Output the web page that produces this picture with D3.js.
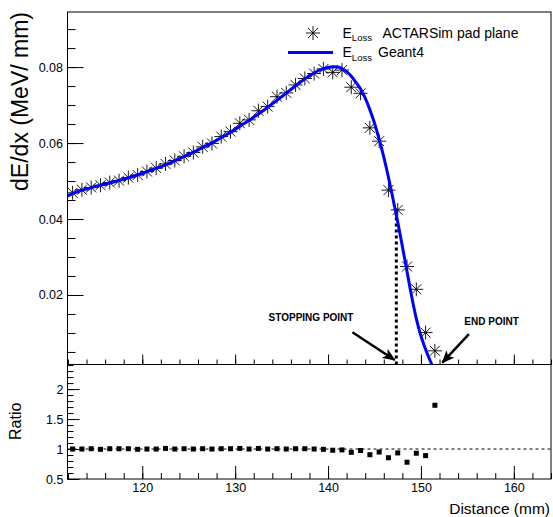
<!DOCTYPE html>
<html>
<head>
<meta charset="utf-8" />
<title>dE/dx</title>
<script src="https://d3js.org/d3.v7.min.js"></script>
<style>
  body { margin: 0; background: white; }
  text { font-family: "Liberation Sans", Arial, sans-serif; }
</style>
</head>
<body>
<div id="vis"></div>
<script>
var w = 553, h = 517;

// ACTARSim pad plane points (one per mm)
var distance = [112.5, 113.5, 114.5, 115.5, 116.5, 117.5, 118.5, 119.5, 120.5, 121.5,
                122.5, 123.5, 124.5, 125.5, 126.5, 127.5, 128.5, 129.5, 130.5, 131.5,
                132.5, 133.5, 134.5, 135.5, 136.5, 137.5, 138.5, 139.5, 140.5, 141.5,
                142.5, 143.5, 144.5, 145.5, 146.5, 147.5, 148.5, 149.5, 150.5, 151.5];
var eloss = [0.0469, 0.0477, 0.0483, 0.0489, 0.0496, 0.0501, 0.0509, 0.0516, 0.0525, 0.0534,
             0.0545, 0.0554, 0.0565, 0.0575, 0.0590, 0.0599, 0.0617, 0.0630, 0.0652, 0.0661,
             0.0685, 0.0696, 0.0722, 0.0732, 0.0753, 0.0770, 0.0783, 0.0795, 0.0786, 0.0792,
             0.0747, 0.0731, 0.0640, 0.0605, 0.0476, 0.0424, 0.0275, 0.0215, 0.0101, 0.0053];
var ratio = [1.0, 1.0, 1.005, 0.995, 1.005, 1.005, 1.005, 0.995, 1.0, 1.0,
             1.01, 1.0, 1.005, 1.0, 1.005, 1.0, 1.005, 1.005, 1.01, 1.0,
             1.01, 1.0, 1.005, 1.0, 1.005, 1.005, 1.0, 0.995, 0.98, 0.985,
             0.945, 0.975, 0.905, 0.95, 0.855, 0.935, 0.78, 0.93, 0.89, 1.73];

// Geant4 curve
var g4Distance = [112, 113, 114, 115, 116, 117, 118, 119, 120, 121, 122, 123, 124, 125,
                  126, 127, 128, 129, 130, 131, 132, 133, 134, 135, 136, 137, 138, 139,
                  140, 140.5, 141, 141.5, 142, 142.5, 143, 143.5, 144, 144.5, 145, 145.5,
                  146, 146.5, 147, 147.5, 148, 148.5, 149, 149.5, 150, 150.3, 150.7, 151.3];
var g4Eloss = [0.0461, 0.0472, 0.0479, 0.0486, 0.0492, 0.0498, 0.0505, 0.0512, 0.0520, 0.0529,
               0.0538, 0.0548, 0.0559, 0.0570, 0.0582, 0.0594, 0.0607, 0.0621, 0.0636, 0.0652,
               0.0668, 0.0685, 0.0703, 0.0722, 0.0741, 0.0760, 0.0777, 0.0791, 0.0799, 0.0801,
               0.0800, 0.0796, 0.0788, 0.0776, 0.0760, 0.0742, 0.0718, 0.0688, 0.0652, 0.0610,
               0.0563, 0.0510, 0.0452, 0.0392, 0.0328, 0.0262, 0.0196, 0.0138, 0.0092, 0.0070,
               0.0044, 0.0010];

var elossTicks = [0.02, 0.04, 0.06, 0.08];
var ratioTicks = [0.5, 1, 1.5, 2];
var distTicks = [120, 130, 140, 150, 160];
var stoppingPoint = 147.35;

var left = 67.5, right = 551;
var topY = 12, midY = 364.5, botY = 479;

var x = d3.scaleLinear().domain([111.95, 164]).range([left, right]);
var y = d3.scaleLinear().domain([0.0017, 0.0945]).range([midY, topY]);
var yr = d3.scaleLinear().domain([0.5, 2.41]).range([botY, midY]);

var svg = d3.select("#vis").append("svg")
  .attr("width", w)
  .attr("height", h);

svg.append("rect").attr("width", w).attr("height", h).attr("fill", "white");

var defs = svg.append("defs");
defs.append("clipPath").attr("id", "clipTop")
  .append("rect")
  .attr("x", left).attr("y", topY)
  .attr("width", right - left).attr("height", midY - topY);
defs.append("marker").attr("id", "head")
  .attr("viewBox", "0 0 12 10")
  .attr("refX", 11).attr("refY", 5)
  .attr("markerUnits", "userSpaceOnUse")
  .attr("markerWidth", 13).attr("markerHeight", 11)
  .attr("orient", "auto")
  .append("path")
  .attr("d", "M0,0L12,5L0,10L3,5Z")
  .attr("fill", "black");

function minor(a, b, step) {
  var out = [];
  for (var v = a; v <= b + 1e-9; v += step) out.push(+v.toFixed(4));
  return out;
}

function styleAxis(g) {
  g.select(".domain").remove();
  g.selectAll("line").attr("stroke", "black");
  g.selectAll("text").attr("font-size", 12.5).attr("fill", "black")
    .attr("font-family", "Liberation Sans, Arial, sans-serif");
}

// top panel axes
svg.append("g").attr("transform", "translate(" + left + ",0)")
  .call(d3.axisLeft(y).tickValues(minor(0.005, 0.09, 0.005)).tickSizeInner(-8).tickSizeOuter(0).tickFormat(""))
  .call(styleAxis);
svg.append("g").attr("transform", "translate(" + left + ",0)")
  .call(d3.axisLeft(y).tickValues(elossTicks).tickSizeInner(-16).tickSizeOuter(0).tickPadding(4.5)
    .tickFormat(d3.format(".2f")))
  .call(styleAxis);
svg.append("g").attr("transform", "translate(0," + midY + ")")
  .call(d3.axisBottom(x).tickValues(minor(112, 164, 2)).tickSizeInner(-5).tickSizeOuter(0).tickFormat(""))
  .call(styleAxis);
svg.append("g").attr("transform", "translate(0," + midY + ")")
  .call(d3.axisBottom(x).tickValues(distTicks).tickSizeInner(-10).tickSizeOuter(0).tickFormat(""))
  .call(styleAxis);

// bottom panel axes
svg.append("g").attr("transform", "translate(" + left + ",0)")
  .call(d3.axisLeft(yr).tickValues(minor(0.5, 2.4, 0.1)).tickSizeInner(-6).tickSizeOuter(0).tickFormat(""))
  .call(styleAxis);
svg.append("g").attr("transform", "translate(" + left + ",0)")
  .call(d3.axisLeft(yr).tickValues(ratioTicks).tickSizeInner(-12).tickSizeOuter(0).tickPadding(4)
    .tickFormat(d3.format("")))
  .call(styleAxis);
svg.append("g").attr("transform", "translate(0," + botY + ")")
  .call(d3.axisBottom(x).tickValues(minor(112, 164, 2)).tickSizeInner(-6).tickSizeOuter(0).tickFormat(""))
  .call(styleAxis);
svg.append("g").attr("transform", "translate(0," + botY + ")")
  .call(d3.axisBottom(x).tickValues(distTicks).tickSizeInner(-13).tickSizeOuter(0).tickPadding(4))
  .call(styleAxis);

// frames
svg.append("rect").attr("x", left).attr("y", topY)
  .attr("width", right - left).attr("height", midY - topY)
  .attr("fill", "none").attr("stroke", "black");
svg.append("rect").attr("x", left).attr("y", midY)
  .attr("width", right - left).attr("height", botY - midY)
  .attr("fill", "none").attr("stroke", "black");

// stopping point dotted line
svg.append("line")
  .attr("x1", x(stoppingPoint)).attr("x2", x(stoppingPoint))
  .attr("y1", y(0.0017)).attr("y2", y(0.0421))
  .attr("stroke", "black").attr("stroke-width", 3)
  .attr("stroke-dasharray", "3,3");

// stars
var plot = svg.append("g").attr("clip-path", "url(#clipTop)");
var star = "M-7,0H7M0,-7V7M-5,-5L5,5M-5,5L5,-5";
plot.selectAll("path.star")
  .data(distance)
  .enter().append("path")
  .attr("class", "star")
  .attr("d", star)
  .attr("transform", function(d, i) { return "translate(" + x(d) + "," + y(eloss[i]) + ")"; })
  .attr("stroke", "black").attr("stroke-width", 0.9).attr("fill", "none");

// Geant4 curve
var line = d3.line()
  .x(function(d, i) { return x(d); })
  .y(function(d, i) { return y(g4Eloss[i]); })
  .curve(d3.curveMonotoneX);
plot.append("path")
  .attr("d", line(g4Distance))
  .attr("fill", "none").attr("stroke", "#0000ff").attr("stroke-width", 3);

// arrows
svg.append("line")
  .attr("x1", x(142.62)).attr("y1", y(0.0102))
  .attr("x2", x(147.17)).attr("y2", y(0.0029))
  .attr("stroke", "black").attr("stroke-width", 2.5).attr("marker-end", "url(#head)");
svg.append("line")
  .attr("x1", x(155.16)).attr("y1", y(0.0097))
  .attr("x2", x(152.3)).attr("y2", y(0.0022))
  .attr("stroke", "black").attr("stroke-width", 2.5).attr("marker-end", "url(#head)");
svg.append("text").attr("x", x(133.6)).attr("y", y(0.0132))
  .attr("font-family", "Liberation Serif, Times New Roman, serif").attr("font-weight", "bold")
  .attr("font-size", 10).text("STOPPING POINT");
svg.append("text").attr("x", x(154.67)).attr("y", y(0.0121))
  .attr("font-family", "Liberation Serif, Times New Roman, serif").attr("font-weight", "bold")
  .attr("font-size", 10).text("END POINT");

// ratio panel
svg.append("line")
  .attr("x1", left).attr("x2", right)
  .attr("y1", yr(1)).attr("y2", yr(1))
  .attr("stroke", "black").attr("stroke-dasharray", "3,3");
svg.selectAll("rect.ratio")
  .data(distance)
  .enter().append("rect")
  .attr("class", "ratio")
  .attr("x", function(d) { return x(d) - 2.5; })
  .attr("y", function(d, i) { return yr(ratio[i]) - 2.5; })
  .attr("width", 5).attr("height", 5)
  .attr("fill", "black");

// legend
var leg = svg.append("g");
leg.append("path").attr("d", star).attr("transform", "translate(313,33)")
  .attr("stroke", "black").attr("stroke-width", 0.9).attr("fill", "none");
leg.append("line").attr("x1", 288).attr("x2", 333).attr("y1", 52.5).attr("y2", 52.5)
  .attr("stroke", "#0000ff").attr("stroke-width", 3);
var t1 = leg.append("text").attr("x", 342.5).attr("y", 37.5).attr("font-size", 14);
t1.append("tspan").text("E");
t1.append("tspan").attr("font-size", 9.5).attr("dy", 3.5).text("Loss");
t1.append("tspan").attr("dy", -3.5).attr("x", 382.5).text("ACTARSim pad plane");
var t2 = leg.append("text").attr("x", 342.5).attr("y", 57).attr("font-size", 14);
t2.append("tspan").text("E");
t2.append("tspan").attr("font-size", 9.5).attr("dy", 3.5).text("Loss");
t2.append("tspan").attr("dy", -3.5).attr("x", 378).text("Geant4");

// axis titles
svg.append("text")
  .attr("transform", "translate(28,12) rotate(-90)")
  .attr("text-anchor", "end")
  .attr("font-size", 23)
  .text("dE/dx (MeV/ mm)");
svg.append("text")
  .attr("transform", "translate(21,440) rotate(-90)")
  .attr("text-anchor", "start")
  .attr("font-size", 16)
  .text("Ratio");
svg.append("text")
  .attr("x", 550).attr("y", 514)
  .attr("text-anchor", "end")
  .attr("font-size", 15.5)
  .text("Distance (mm)");
</script>
</body>
</html>
